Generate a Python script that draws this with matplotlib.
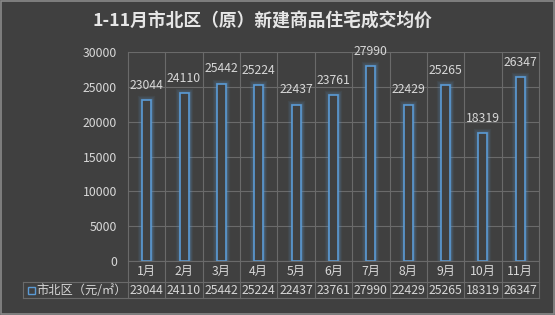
import matplotlib
matplotlib.use('Agg')
import matplotlib.pyplot as plt
from matplotlib.patches import Rectangle
from matplotlib.lines import Line2D

plt.rcParams['font.family'] = ['Noto Sans CJK SC', 'DejaVu Sans']

# data
months = ['1月', '2月', '3月', '4月', '5月', '6月', '7月', '8月', '9月', '10月', '11月']
prices = [23044, 24110, 25442, 25224, 22437, 23761, 27990, 22429, 25265, 18319, 26347]
series_name = '市北区（元/㎡）'
title = '1-11月市北区（原）新建商品住宅成交均价'

bg = '#404040'
grid_c = '#6a6a6a'
txt_c = '#d8d8d8'
bar_c = '#5b9bd5'

W, H = 555, 315
fig = plt.figure(figsize=(W / 100, H / 100), dpi=100, facecolor=bg)

# plot area in pixels
x0, x1 = 128, 539
y_top, y_bot = 52, 261
row1, row2 = 282, 298
leg_x = 23

ax = fig.add_axes([x0 / W, 1 - y_bot / H, (x1 - x0) / W, (y_bot - y_top) / H])
ax.set_facecolor(bg)
n = len(months)
ax.set_xlim(-0.5, n - 0.5)
ax.set_ylim(0, 30000)
ax.set_yticks(range(0, 30001, 5000))
ax.set_xticks([])
ax.tick_params(axis='y', length=0, colors=txt_c, labelsize=8.8, pad=8)
for s in ax.spines.values():
    s.set_visible(False)
ax.yaxis.grid(True, color=grid_c, linewidth=0.8)
ax.set_axisbelow(True)

xs = list(range(n))
bw = 0.24
# glow
for lw, a in [(6, 0.08), (4, 0.12), (2.5, 0.2)]:
    ax.bar(xs, prices, width=bw, facecolor='none', edgecolor=bar_c, linewidth=lw, alpha=a)
ax.bar(xs, prices, width=bw, facecolor=bg, edgecolor=bar_c, linewidth=1.2)
for x, v in zip(xs, prices):
    ax.annotate(str(v), (x, v), xytext=(0, 6), textcoords='offset points',
                ha='center', va='bottom', color=txt_c, fontsize=8.8)

# table and vertical gridlines, in figure pixel coords
def fx(px):
    return px / W

def fy(py):
    return 1 - py / H

col_w = (x1 - x0) / n
for i in range(n + 1):
    xp = x0 + i * col_w
    fig.add_artist(Line2D([fx(xp), fx(xp)], [fy(y_top), fy(row2)], color=grid_c, linewidth=0.8))
fig.add_artist(Line2D([fx(x0), fx(x1)], [fy(y_bot), fy(y_bot)], color=grid_c, linewidth=0.8))
for yp in (row1, row2):
    fig.add_artist(Line2D([fx(leg_x), fx(x1)], [fy(yp), fy(yp)], color=grid_c, linewidth=0.8))
fig.add_artist(Line2D([fx(leg_x), fx(leg_x)], [fy(row1), fy(row2)], color=grid_c, linewidth=0.8))

for i, (m, v) in enumerate(zip(months, prices)):
    cx = x0 + (i + 0.5) * col_w
    fig.text(fx(cx), fy((y_bot + row1) / 2), m, ha='center', va='center', color=txt_c, fontsize=8.8)
    fig.text(fx(cx), fy((row1 + row2) / 2), str(v), ha='center', va='center', color=txt_c, fontsize=8.8)

# legend key in table
fig.add_artist(Rectangle((fx(leg_x + 5), fy(294)), 7 / W, 7 / H, facecolor=bg,
                         edgecolor=bar_c, linewidth=1))
fig.text(fx(leg_x + 13), fy((row1 + row2) / 2), series_name, ha='left', va='center',
         color=txt_c, fontsize=8.8)

fig.text(fx(262), fy(22), title, ha='center', va='center', color='#e6e6e6',
         fontsize=12.8, fontweight='bold')

# outer border
fig.add_artist(Rectangle((0.002, 0.004), 0.996, 0.994, facecolor='none',
                         edgecolor='#8a8a8a', linewidth=1.2))

fig.savefig('out.png', dpi=100, facecolor=bg)
